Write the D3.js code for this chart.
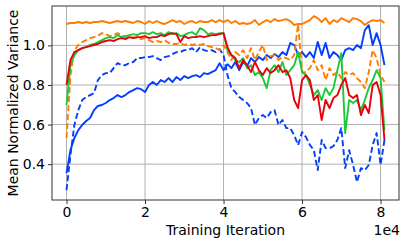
<!DOCTYPE html>
<html>
<head>
<meta charset="utf-8">
<script src="https://cdn.jsdelivr.net/npm/d3@7"></script>
<style>
body { margin: 0; background: #fff; }
text { font-family: "DejaVu Sans", sans-serif; fill: #000; }
</style>
</head>
<body>
<svg id="chart" width="407" height="244"></svg>
<script>
// Data: one value per 1000 training iterations
var iterations = d3.range(0, 82000, 1000);

var blueSolid = [0.355,0.471,0.532,0.572,0.598,0.618,0.633,0.673,0.694,0.699,
  0.709,0.724,0.734,0.749,0.739,0.749,0.764,0.774,0.784,0.779,
  0.764,0.800,0.815,0.800,0.825,0.815,0.835,0.815,0.840,0.825,
  0.845,0.835,0.845,0.850,0.840,0.860,0.855,0.865,0.875,0.910,
  0.875,0.905,0.885,0.916,0.875,0.916,0.895,0.936,0.916,0.941,
  0.926,0.951,0.936,0.956,0.941,0.966,0.951,1.012,1.002,0.951,
  0.966,0.941,0.966,0.936,1.017,0.951,1.012,0.936,0.966,0.951,
  0.926,0.976,0.986,0.976,1.002,0.986,1.077,1.102,1.002,1.062,
  1.002,0.900];

var blueDashed = [0.269,0.446,0.598,0.673,0.724,0.739,0.749,0.759,0.825,0.850,
  0.860,0.860,0.885,0.911,0.900,0.900,0.911,0.916,0.936,0.936,
  0.941,0.941,0.946,0.936,0.926,0.941,0.946,0.956,0.966,0.966,
  0.976,0.976,0.986,0.966,0.991,0.976,0.971,0.976,0.966,0.981,
  0.951,0.850,0.784,0.764,0.739,0.724,0.709,0.683,0.598,0.633,
  0.648,0.633,0.663,0.673,0.598,0.623,0.582,0.582,0.547,0.496,
  0.562,0.537,0.497,0.471,0.370,0.522,0.481,0.481,0.491,0.522,
  0.582,0.380,0.471,0.396,0.310,0.380,0.370,0.396,0.497,0.557,
  0.396,0.522];

var orangeSolid = [1.108,1.113,1.113,1.118,1.113,1.118,1.113,1.118,1.118,1.123,
  1.118,1.113,1.118,1.123,1.118,1.123,1.118,1.113,1.123,1.118,
  1.108,1.123,1.113,1.123,1.113,1.108,1.118,1.128,1.118,1.123,
  1.108,1.118,1.123,1.113,1.123,1.118,1.118,1.128,1.118,1.128,
  1.118,1.128,1.113,1.123,1.108,1.113,1.108,1.113,1.128,1.103,
  1.118,1.128,1.118,1.133,1.123,1.128,1.133,1.123,1.103,1.108,
  1.108,1.118,1.128,1.148,1.138,1.118,1.138,1.108,1.128,1.118,
  1.138,1.128,1.118,1.138,1.133,1.123,1.103,1.118,1.128,1.123,
  1.128,1.113];

var orangeDashed = [0.532,0.850,0.976,1.002,1.017,1.027,1.037,1.042,1.047,1.062,
  1.057,1.047,1.052,1.062,1.052,1.042,1.037,1.042,1.037,1.032,
  1.037,1.027,1.017,1.022,1.017,1.027,1.012,1.007,1.007,1.012,
  1.002,1.007,1.002,1.007,1.002,1.007,0.996,0.991,0.986,0.976,
  1.002,0.966,0.926,0.966,0.951,0.976,0.936,0.986,0.926,0.966,
  1.002,0.926,0.946,0.951,0.926,0.941,0.936,0.926,0.951,1.107,
  0.865,0.865,0.885,0.926,0.875,0.900,0.825,0.885,0.850,0.865,
  0.835,0.865,0.850,0.860,0.835,0.815,0.784,0.865,0.976,0.936,
  0.850,0.815];

var green = [0.699,0.900,0.951,0.976,0.986,0.991,1.002,1.007,1.017,1.027,
  1.037,1.042,1.037,1.052,1.042,1.047,1.052,1.057,1.052,1.062,
  1.062,1.057,1.067,1.057,1.062,1.052,1.067,1.057,1.062,1.047,
  1.052,1.062,1.067,1.052,1.087,1.077,1.057,1.062,1.057,1.062,
  1.062,0.976,0.951,0.926,0.916,0.936,0.885,0.900,0.850,0.865,
  0.835,0.784,0.875,0.900,0.865,0.916,0.850,0.875,0.900,0.966,
  0.865,0.850,0.800,0.749,0.774,0.724,0.784,0.749,0.784,0.875,
  0.961,0.557,0.724,0.709,0.724,0.673,0.724,0.784,0.825,0.875,
  0.835,0.570];

var red = [0.800,0.926,0.966,0.976,0.986,0.991,0.996,1.002,1.007,1.017,
  1.022,1.027,1.022,1.032,1.037,1.032,1.042,1.037,1.042,1.042,
  1.047,1.037,1.042,1.042,1.052,1.047,1.057,1.062,1.057,1.017,
  1.047,1.037,1.042,1.042,1.047,1.042,1.047,1.052,1.052,1.057,
  1.062,0.991,0.951,0.936,0.885,0.926,0.900,0.865,0.916,0.875,
  0.850,0.885,0.860,0.875,0.900,0.865,0.875,0.835,0.724,0.683,
  0.825,0.850,0.825,0.724,0.749,0.623,0.724,0.683,0.734,0.749,
  0.800,0.835,0.749,0.734,0.749,0.648,0.699,0.658,0.800,0.815,
  0.749,0.522];

var yTicks = [0.4, 0.6, 0.8, 1.0];
var xTicks = [0, 20000, 40000, 60000, 80000];

// series list, drawn in this order
var series = [
  {values: blueSolid,   color: "#023eff", dash: null},
  {values: blueDashed,  color: "#023eff", dash: "6,3"},
  {values: orangeSolid, color: "#ff7c00", dash: null},
  {values: orangeDashed,color: "#ff7c00", dash: "6,3"},
  {values: green,       color: "#1ac938", dash: null},
  {values: red,         color: "#e8000b", dash: null}
];

var margin = {left: 52, top: 6, right: 8, bottom: 44};
var width = 407 - margin.left - margin.right;
var height = 244 - margin.top - margin.bottom;

var svg = d3.select("#chart");
var g = svg.append("g")
           .attr("transform", "translate(" + margin.left + "," + margin.top + ")");

var x = d3.scaleLinear().domain([-3700, 84700]).range([0, width]);
var y = d3.scaleLinear().domain([0.219, 1.199]).range([height, 0]);

// Grid
g.append("g")
 .selectAll("line.gx")
 .data(xTicks)
 .enter()
 .append("line")
 .attr("x1", function(d){ return x(d); })
 .attr("x2", function(d){ return x(d); })
 .attr("y1", 0)
 .attr("y2", height)
 .attr("stroke", "#b0b0b0")
 .attr("stroke-width", 1);

g.append("g")
 .selectAll("line.gy")
 .data(yTicks)
 .enter()
 .append("line")
 .attr("x1", 0)
 .attr("x2", width)
 .attr("y1", function(d){ return y(d); })
 .attr("y2", function(d){ return y(d); })
 .attr("stroke", "#b0b0b0")
 .attr("stroke-width", 1);

// Lines
var line = d3.line()
             .x(function(d, i){ return x(iterations[i]); })
             .y(function(d){ return y(d); });

g.selectAll("path.series")
 .data(series)
 .enter()
 .append("path")
 .attr("class", "series")
 .attr("d", function(d){ return line(d.values); })
 .attr("fill", "none")
 .attr("stroke", function(d){ return d.color; })
 .attr("stroke-width", 1.9)
 .attr("stroke-linejoin", "round")
 .attr("stroke-dasharray", function(d){ return d.dash; });

// Axes
var xAxis = g.append("g")
             .attr("transform", "translate(0," + height + ")")
             .call(d3.axisBottom(x).tickValues(xTicks).tickSize(4).tickPadding(3)
                     .tickFormat(function(d){ return d / 10000; }));

var yAxis = g.append("g")
             .call(d3.axisLeft(y).tickValues(yTicks).tickSize(4).tickPadding(3)
                     .tickFormat(d3.format(".1f")));

[xAxis, yAxis].forEach(function(a){
  a.select(".domain").remove();
  a.selectAll("line").attr("stroke", "#333");
  a.selectAll("text").attr("font-size", 14).attr("fill", "#000");
});

// Frame
g.append("rect")
 .attr("x", 0)
 .attr("y", 0)
 .attr("width", width)
 .attr("height", height)
 .attr("fill", "none")
 .attr("stroke", "#333")
 .attr("stroke-width", 1);

// Labels
svg.append("text")
   .attr("x", margin.left + width / 2)
   .attr("y", 235)
   .attr("text-anchor", "middle")
   .attr("font-size", 14)
   .text("Training Iteration");

svg.append("text")
   .attr("x", 400)
   .attr("y", 235)
   .attr("text-anchor", "end")
   .attr("font-size", 14)
   .text("1e4");

svg.append("text")
   .attr("transform", "translate(18," + (margin.top + height / 2) + ") rotate(-90)")
   .attr("text-anchor", "middle")
   .attr("font-size", 14)
   .text("Mean Normalized Variance");
</script>
</body>
</html>
